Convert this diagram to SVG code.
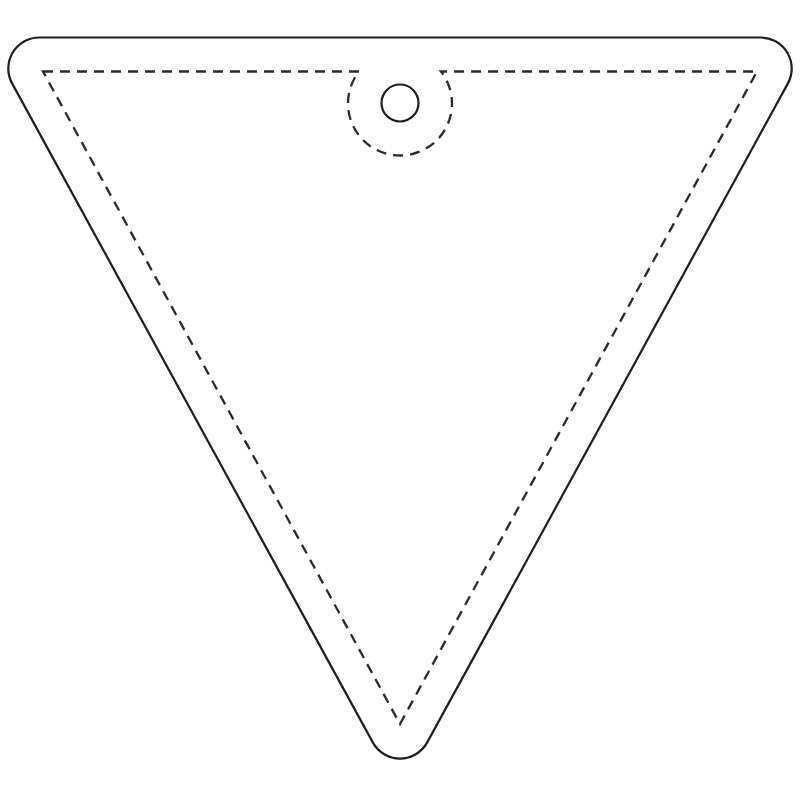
<svg xmlns="http://www.w3.org/2000/svg" width="800" height="800" viewBox="0 0 800 800">
<style>
.outline{fill:#fff;stroke:#1e1e1e;stroke-width:2.2;stroke-linejoin:round}
.cut{fill:none;stroke:#2a2a2a;stroke-width:2.3;stroke-dasharray:10 7;stroke-linejoin:miter}
.hole{fill:#fff;stroke:#1e1e1e;stroke-width:2.2}
</style>
<rect width="800" height="800" fill="#fff"/>
<g id="reflector-outline">
<path class="outline" d="M39.3 37.5 L760.7 37.5 A31 31 0 0 1 787.9 83.4 L427.2 742.4 A31 31 0 0 1 372.8 742.4 L12.1 83.4 A31 31 0 0 1 39.3 37.5 Z"/>
</g>
<g id="print-area">
<path class="cut" d="M43 71.5 L359 71.5 A52 52 0 1 0 441 71.5 L757 71.5 L400 724 Z"/>
</g>
<g id="hang-hole">
<circle class="hole" cx="400" cy="103" r="18.5"/>
</g>
</svg>
